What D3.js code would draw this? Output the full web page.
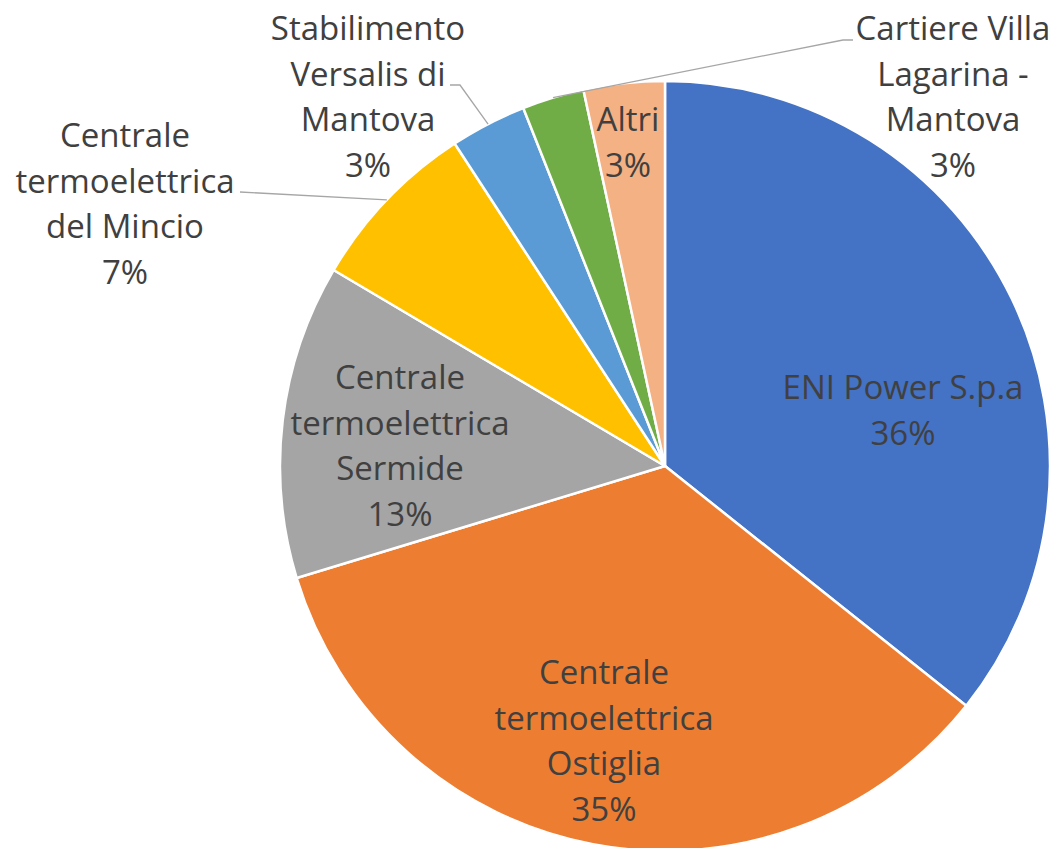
<!DOCTYPE html>
<html lang="it">
<head>
  <meta charset="UTF-8">
  <title>Emissioni per impianto</title>
  <script src="https://d3js.org/d3.v7.min.js"></script>
  <style>
    body { margin: 0; background: #fff; }
    text { font-family: "Open Sans", Lato, sans-serif; fill: #404040; }
  </style>
</head>
<body>
  <div class="canvas"></div>
  <script>
    // slices, clockwise from 12 o'clock
    const categories = [
      "ENI Power S.p.a",
      "Centrale termoelettrica Ostiglia",
      "Centrale termoelettrica Sermide",
      "Centrale termoelettrica del Mincio",
      "Stabilimento Versalis di Mantova",
      "Cartiere Villa Lagarina - Mantova",
      "Altri"
    ];
    const values = [35.7, 34.6, 13.2, 7.3, 3.2, 2.6, 3.4];

    // label text split into lines, as in the picture
    const labelLines = [
      ["ENI Power S.p.a"],
      ["Centrale", "termoelettrica", "Ostiglia"],
      ["Centrale", "termoelettrica", "Sermide"],
      ["Centrale", "termoelettrica", "del Mincio"],
      ["Stabilimento", "Versalis di", "Mantova"],
      ["Cartiere Villa", "Lagarina -", "Mantova"],
      ["Altri"]
    ];

    const colors = ["#4472C4", "#ED7D31", "#A5A5A5", "#FFC000", "#5B9BD5", "#70AD47", "#F4B183"];

    // label layout: centre x and first baseline y, plus optional leader end points
    const labelLayout = [
      { x: 903, y: 399 },
      { x: 604, y: 684 },
      { x: 400, y: 389 },
      { x: 125, y: 147, leader: [[240, 192]] },
      { x: 368, y: 40, leader: [[460, 85], [450, 85]] },
      { x: 953, y: 40, leader: [[843, 40], [853, 40]] },
      { x: 628, y: 131 }
    ];

    const width = 1055, height = 848;
    const cx = 665, cy = 466, radius = 385;
    const lineGap = 45.5;

    const svg = d3.select(".canvas").append("svg")
      .attr("width", width)
      .attr("height", height);

    const graph = svg.append("g").attr("transform", `translate(${cx}, ${cy})`);

    const pie = d3.pie().sort(null).value(d => d);
    const arcs = pie(values);
    const total = d3.sum(values);
    const pct = d3.format(".0%");

    const arc = d3.arc().innerRadius(0).outerRadius(radius);
    const edge = d3.arc().innerRadius(radius).outerRadius(radius);

    graph.selectAll("path.slice")
      .data(arcs)
      .enter()
      .append("path")
      .attr("class", "slice")
      .attr("d", arc)
      .attr("fill", (d, i) => colors[i])
      .attr("stroke", "#fff")
      .attr("stroke-width", 2.5)
      .attr("stroke-linejoin", "round");

    // leader lines from slice edge to label
    arcs.forEach((d, i) => {
      const lay = labelLayout[i];
      if (!lay.leader) return;
      const p = edge.centroid(d);
      const pts = [[p[0] + cx, p[1] + cy]].concat(lay.leader);
      svg.append("path")
        .attr("d", d3.line()(pts))
        .attr("fill", "none")
        .attr("stroke", "#a6a6a6")
        .attr("stroke-width", 1.3);
    });

    // labels
    arcs.forEach((d, i) => {
      const lay = labelLayout[i];
      const lines = labelLines[i].concat([pct(values[i] / total)]);
      const t = svg.append("text")
        .attr("text-anchor", "middle")
        .attr("font-size", 33);
      lines.forEach((s, j) => {
        t.append("tspan")
          .attr("x", lay.x)
          .attr("y", lay.y + j * lineGap)
          .text(s);
      });
    });
  </script>
</body>
</html>
